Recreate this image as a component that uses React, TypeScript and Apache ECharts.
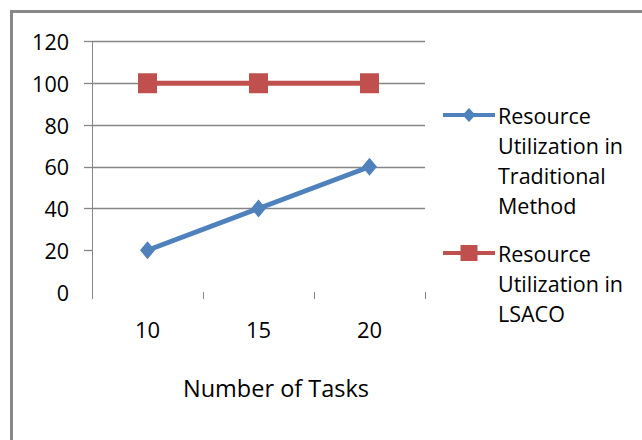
import React, { useEffect, useRef } from "react";
import * as echarts from "echarts";

// Task counts on the category axis
const categories = ["10", "15", "20"];
// Resource utilization (%) per method
const traditional = [20, 40, 60];
const lsaco = [100, 100, 100];
const yTickValues = [20, 40, 60, 80, 100, 120];

const seriesNames = [
  "Resource\nUtilization in\nTraditional\nMethod",
  "Resource\nUtilization in\nLSACO",
];

const BLUE = "#4F81BD";
const RED = "#C0504D";
const GRID = "#868686";
const FONT = "Open Sans";

export default function App() {
  const ref = useRef<HTMLDivElement>(null);

  useEffect(() => {
    if (!ref.current) return;
    const chart = echarts.init(ref.current, undefined, { renderer: "svg" });

    const legendItem = (
      y: number,
      name: string,
      color: string,
      marker: any
    ) => ({
      type: "group",
      children: [
        {
          type: "line",
          shape: { x1: 443, y1: y, x2: 495, y2: y },
          style: { stroke: color, lineWidth: 4 },
        },
        marker,
        {
          type: "text",
          x: 498,
          y: y - 15,
          style: {
            text: name,
            fontFamily: FONT,
            fontSize: 21.5,
            lineHeight: 30,
            fill: "#000",
            verticalAlign: "top",
            align: "left",
          },
        },
      ],
    });

    chart.setOption({
      animation: false,
      backgroundColor: "#fff",
      grid: { left: 92, top: 41.5, width: 333, height: 250.5 },
      xAxis: {
        type: "category",
        data: categories,
        boundaryGap: true,
        axisLine: { show: false },
        axisTick: { show: true, length: 7, lineStyle: { color: GRID, width: 1 } },
        axisLabel: { color: "#000", fontFamily: FONT, fontSize: 22, margin: 26 },
        splitLine: { show: false },
      },
      yAxis: {
        type: "value",
        min: 0,
        max: 120,
        interval: 20,
        axisLine: { show: true, lineStyle: { color: GRID, width: 1 } },
        axisTick: {
          show: true,
          length: 8,
          customValues: yTickValues,
          lineStyle: { color: GRID, width: 1.3 },
        },
        axisLabel: { color: "#000", fontFamily: FONT, fontSize: 21.5, margin: 23 },
        splitLine: {
          show: true,
          lineStyle: {
            color: ["rgba(0,0,0,0)", GRID, GRID, GRID, GRID, GRID, GRID],
            width: 1.3,
          },
        },
      },
      series: [
        {
          name: "Resource Utilization in Traditional Method",
          type: "line",
          data: traditional,
          symbol: "diamond",
          symbolSize: [15, 18],
          lineStyle: { color: BLUE, width: 5 },
          itemStyle: { color: BLUE },
          z: 3,
        },
        {
          name: "Resource Utilization in LSACO",
          type: "line",
          data: lsaco,
          symbol: "rect",
          symbolSize: [19, 20],
          lineStyle: { color: RED, width: 5 },
          itemStyle: { color: RED },
          z: 2,
        },
      ],
      graphic: [
        {
          type: "rect",
          shape: { x: 11.5, y: 11.5, width: 700, height: 500 },
          style: { fill: "none", stroke: "#888", lineWidth: 3 },
          silent: true,
        },
        {
          type: "text",
          x: 276,
          y: 388,
          style: {
            text: "Number of Tasks",
            fontFamily: FONT,
            fontSize: 23.5,
            fill: "#000",
            align: "center",
            verticalAlign: "middle",
          },
        },
        legendItem(115, seriesNames[0], BLUE, {
          type: "polygon",
          shape: {
            points: [
              [469, 108],
              [475.5, 115],
              [469, 122],
              [462.5, 115],
            ],
          },
          style: { fill: BLUE },
        }),
        legendItem(253, seriesNames[1], RED, {
          type: "rect",
          shape: { x: 460.5, y: 245, width: 17, height: 16 },
          style: { fill: RED },
        }),
      ],
    });

    return () => chart.dispose();
  }, []);

  return (
    <div
      ref={ref}
      style={{ position: "fixed", left: 0, top: 0, width: 642, height: 440 }}
    />
  );
}
